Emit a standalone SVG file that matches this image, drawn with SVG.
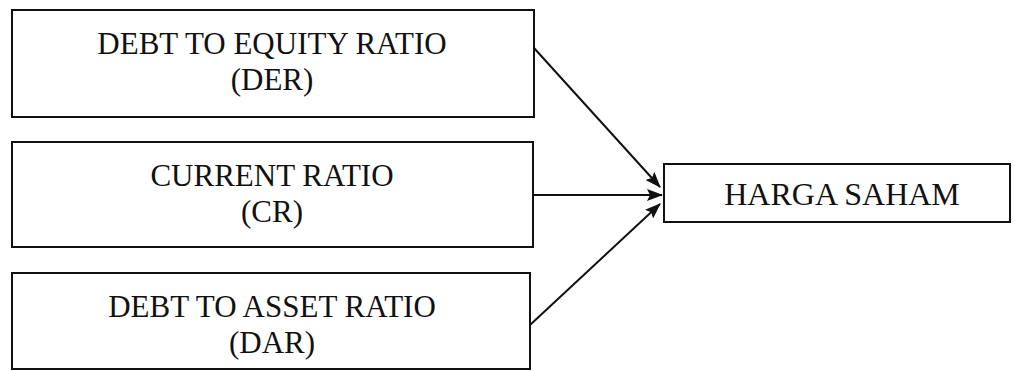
<svg xmlns="http://www.w3.org/2000/svg" width="1015" height="371" viewBox="0 0 1015 371">
<style>
.box{fill:#fff;stroke:#111;stroke-width:2}
.t{font-family:"Liberation Serif","Times New Roman",serif;font-size:31px;fill:#111;text-anchor:middle}
.c{stroke:#111;stroke-width:2;fill:none;marker-end:url(#ah)}
</style>
<defs>
<marker id="ah" markerWidth="16" markerHeight="12" refX="15" refY="6" orient="auto" markerUnits="userSpaceOnUse" viewBox="0 0 16 12">
<path d="M0,0 L16,6 L0,12 L3,6 Z" fill="#111"/>
</marker>
</defs>
<rect width="1015" height="371" fill="#fff"/>
<g id="der">
<rect class="box" x="12" y="10" width="522" height="107"/>
<text class="t" x="272" y="54">DEBT TO EQUITY RATIO</text>
<text class="t" x="272" y="90">(DER)</text>
</g>
<g id="cr">
<rect class="box" x="12" y="142" width="521" height="105"/>
<text class="t" x="272" y="186">CURRENT RATIO</text>
<text class="t" x="272" y="222">(CR)</text>
</g>
<g id="dar">
<rect class="box" x="12" y="273" width="518" height="96"/>
<text class="t" x="272" y="317">DEBT TO ASSET RATIO</text>
<text class="t" x="272" y="353">(DAR)</text>
</g>
<g id="harga">
<rect class="box" x="664" y="164" width="346" height="58"/>
<text class="t" x="842" y="205" style="font-size:32px">HARGA SAHAM</text>
</g>
<g id="connectors">
<line class="c" x1="534" y1="48" x2="660" y2="187"/>
<line class="c" x1="533" y1="195" x2="662" y2="195"/>
<line class="c" x1="530" y1="325" x2="660" y2="204"/>
</g>
</svg>
